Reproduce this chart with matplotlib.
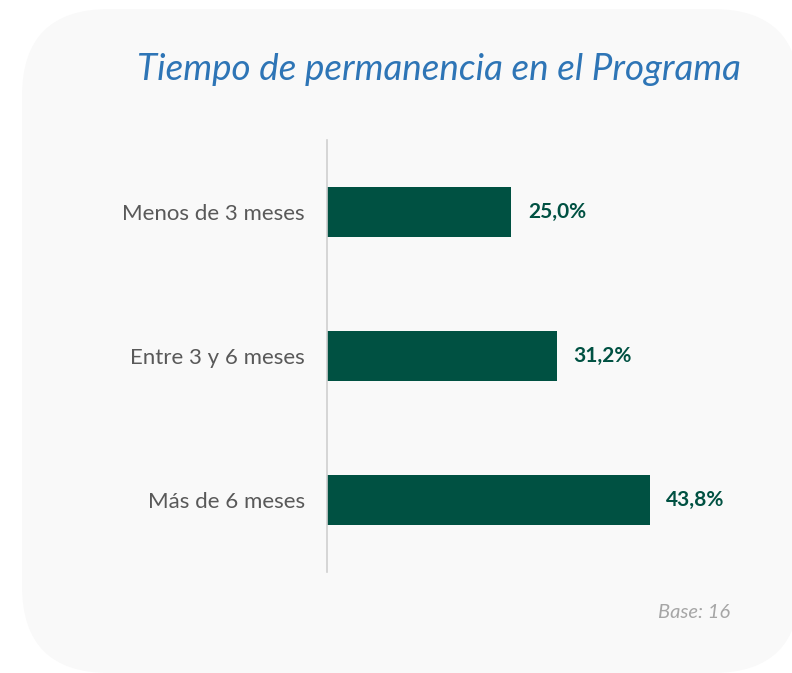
import matplotlib
matplotlib.use("Agg")
import matplotlib.pyplot as plt
from matplotlib.patches import FancyBboxPatch

CATEGORIES = ["Menos de 3 meses", "Entre 3 y 6 meses", "Más de 6 meses"]
VALUES = [25.0, 31.2, 43.8]
VALUE_LABELS = ["25,0%", "31,2%", "43,8%"]
TITLE = "Tiempo de permanencia en el Programa"
BASE_NOTE = "Base: 16"

GREEN = "#005142"
plt.rcParams["font.family"] = ["Lato", "DejaVu Sans"]

W, H = 792, 673
fig = plt.figure(figsize=(W / 100, H / 100), dpi=100)
fig.patch.set_facecolor("white")

# rounded background panel (pixel units converted to figure fraction)
bg = FancyBboxPatch(
    (22 / W, 1 - 673 / H), (800 - 22) / W, (673 - 9) / H,
    boxstyle="round,pad=0,rounding_size=0.11",
    transform=fig.transFigure, facecolor="#f9f9f9", edgecolor="none",
    mutation_aspect=W / H, zorder=-10,
)
fig.patches.append(bg)

ax = fig.add_axes([327 / W, 1 - 572 / H, 442 / W, 432 / H])
ax.set_facecolor("none")
y = list(range(len(CATEGORIES)))
ax.barh(y, VALUES, height=0.35, color=GREEN, zorder=2)
ax.set_ylim(2.5, -0.5)
ax.set_xlim(0, 60)
for s in ["top", "right", "bottom"]:
    ax.spines[s].set_visible(False)
ax.spines["left"].set_color("#d0d0d0")
ax.spines["left"].set_linewidth(1.2)
ax.set_xticks([])
ax.set_yticks(y)
ax.set_yticklabels(CATEGORIES, fontsize=16, color="#595959")
ax.tick_params(axis="y", length=0, pad=16)

for yi, v, lab in zip(y, VALUES, VALUE_LABELS):
    ax.annotate(lab, (v, yi), xytext=(12, 0), textcoords="offset points",
                va="center", ha="left", fontsize=15, fontweight="bold",
                color=GREEN)

fig.text(137 / W, 1 - 70 / H, TITLE, fontsize=26.5, style="italic",
         color="#2e75b6", ha="left", va="center")
fig.text(730 / W, 1 - 613 / H, BASE_NOTE, fontsize=14.5, style="italic",
         color="#a6a6a6", ha="right", va="center")

fig.savefig("out.png", dpi=100)
